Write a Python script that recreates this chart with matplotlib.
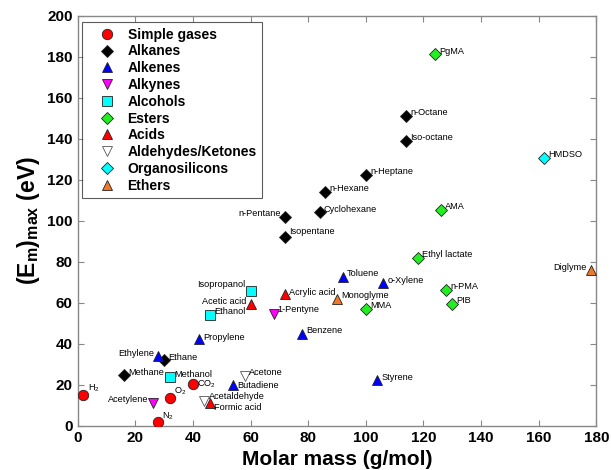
import matplotlib
matplotlib.use("Agg")
import matplotlib.pyplot as plt

plt.rcParams['font.family'] = ['Liberation Sans', 'DejaVu Sans']
plt.rcParams['mathtext.fontset'] = 'custom'
plt.rcParams['mathtext.rm'] = 'Liberation Sans'
plt.rcParams['mathtext.bf'] = 'Liberation Sans:bold'
plt.rcParams['mathtext.it'] = 'Liberation Sans:italic'

# ---- data ----
gas_names = ['H$_2$', 'N$_2$', 'O$_2$', 'CO$_2$']
gas_x = [2, 28, 32, 40]
gas_y = [15, 2, 13.7, 20.3]

alkane_names = ['Methane', 'Ethane', 'n-Pentane', 'Isopentane', 'Cyclohexane',
                'n-Hexane', 'n-Heptane', 'n-Octane', 'Iso-octane']
alkane_x = [16, 30, 72, 72, 84, 86, 100, 114, 114]
alkane_y = [24.6, 31.9, 102, 92, 104.2, 114.1, 122.6, 151.2, 139.2]

alkene_names = ['Ethylene', 'Propylene', 'Butadiene', 'Benzene', 'Toluene', 'o-Xylene', 'Styrene']
alkene_x = [28, 42, 54, 78, 92, 106, 104]
alkene_y = [34.3, 42.2, 19.7, 44.8, 72.8, 69.5, 22.2]

alkyne_names = ['Acetylene', '1-Pentyne']
alkyne_x = [26, 68]
alkyne_y = [11.3, 54.4]

alcohol_names = ['Methanol', 'Ethanol', 'Isopropanol']
alcohol_x = [32, 46, 60]
alcohol_y = [23.7, 54.3, 65.9]

ester_names = ['MMA', 'Ethyl lactate', 'PgMA', 'AMA', 'n-PMA', 'PIB']
ester_x = [100, 118, 124, 126, 128, 130]
ester_y = [57.1, 82.1, 181.3, 105.4, 66.5, 59.6]

acid_names = ['Formic acid', 'Acetic acid', 'Acrylic acid']
acid_x = [46, 60, 72]
acid_y = [11.0, 59.3, 64.1]

ald_names = ['Acetaldehyde', 'Acetone']
ald_x = [44, 58]
ald_y = [12.3, 24.5]

si_names = ['HMDSO']
si_x = [162]
si_y = [130.9]

ether_names = ['Monoglyme', 'Diglyme']
ether_x = [90, 178]
ether_y = [61.9, 76]

x_ticks = [0, 20, 40, 60, 80, 100, 120, 140, 160, 180]
y_ticks = [0, 20, 40, 60, 80, 100, 120, 140, 160, 180, 200]

# ---- style ----
groups = [
    ('Simple gases', gas_names, gas_x, gas_y, 'o', '#ff0000', 7.5),
    ('Alkanes', alkane_names, alkane_x, alkane_y, 'D', '#000000', 6.5),
    ('Alkenes', alkene_names, alkene_x, alkene_y, '^', '#0000ff', 7.5),
    ('Alkynes', alkyne_names, alkyne_x, alkyne_y, 'v', '#ff00ff', 7.5),
    ('Alcohols', alcohol_names, alcohol_x, alcohol_y, 's', '#00ffff', 6.5),
    ('Esters', ester_names, ester_x, ester_y, 'D', '#22ee22', 6.5),
    ('Acids', acid_names, acid_x, acid_y, '^', '#ff0000', 7.5),
    ('Aldehydes/Ketones', ald_names, ald_x, ald_y, 'v', '#ffffff', 7.5),
    ('Organosilicons', si_names, si_x, si_y, 'D', '#00ffff', 6.5),
    ('Ethers', ether_names, ether_x, ether_y, '^', '#f07828', 7.5),
]

# label placement (offset in points; left-side labels listed separately)
left = {'Ethylene', 'Acetylene', 'n-Pentane', 'Isopropanol', 'Acetic acid', 'Diglyme'}
special = {
    'Formic acid': (3, -3),
    'Acetaldehyde': (3, 3),
    'Butadiene': (3, 0),
    'CO$_2$': (3, 0),
    'H$_2$': (3, 5),
    'O$_2$': (3, 5),
    'N$_2$': (3, 4),
    'Isopentane': (3, 4.5),
    'Isopropanol': (-3.5, 4.5),
    '1-Pentyne': (3, 3.5),
    'Acrylic acid': (3, 1.5),
    'Propylene': (3, 1.2),
    'Ethylene': (-3, 1.5),
}

fig = plt.figure(figsize=(6.11, 4.70), dpi=100)
ax = fig.add_axes([0.127, 0.094, 0.849, 0.872])

for gname, names, xs, ys, mk, col, ms in groups:
    edge = '#555555' if gname == 'Aldehydes/Ketones' else '#222222'
    ax.plot(xs, ys, linestyle='none', marker=mk, markersize=ms,
            markerfacecolor=col, markeredgecolor=edge, markeredgewidth=0.6,
            label=gname, zorder=3)
    for n, x, y in zip(names, xs, ys):
        if n in left:
            off = special.get(n, (-3, 2.2))
            ax.annotate(n, (x, y), xytext=off, textcoords='offset points',
                        ha='right', va='center', fontsize=6.6)
        else:
            off = special.get(n, (3, 2.2))
            ax.annotate(n, (x, y), xytext=off, textcoords='offset points',
                        ha='left', va='center', fontsize=6.6)

ax.set_xlim(0, 180)
ax.set_ylim(0, 200)
ax.set_xticks(x_ticks)
ax.set_yticks(y_ticks)
ax.tick_params(direction='in', top=True, right=True, length=4, color='#888888',
               labelsize=11)
for lab in ax.get_xticklabels() + ax.get_yticklabels():
    lab.set_fontweight('bold')
for s in ax.spines.values():
    s.set_color('#888888')
    s.set_linewidth(1.0)

ax.set_xlabel('Molar mass (g/mol)', fontsize=15, fontweight='bold', labelpad=4)
ax.set_ylabel(r'$\mathbf{(E_m)_{max}}$ (eV)', fontsize=16.5, fontweight='bold', labelpad=4)

leg = ax.legend(loc='upper left', bbox_to_anchor=(0.008, 0.985),
                prop={'weight': 'bold', 'size': 10}, frameon=True, fancybox=False,
                edgecolor='#333333', labelspacing=0.2, handletextpad=0.0,
                borderpad=0.4, handlelength=2.9, borderaxespad=0.0)
leg.get_frame().set_linewidth(0.8)

fig.savefig('out.png', dpi=100)
